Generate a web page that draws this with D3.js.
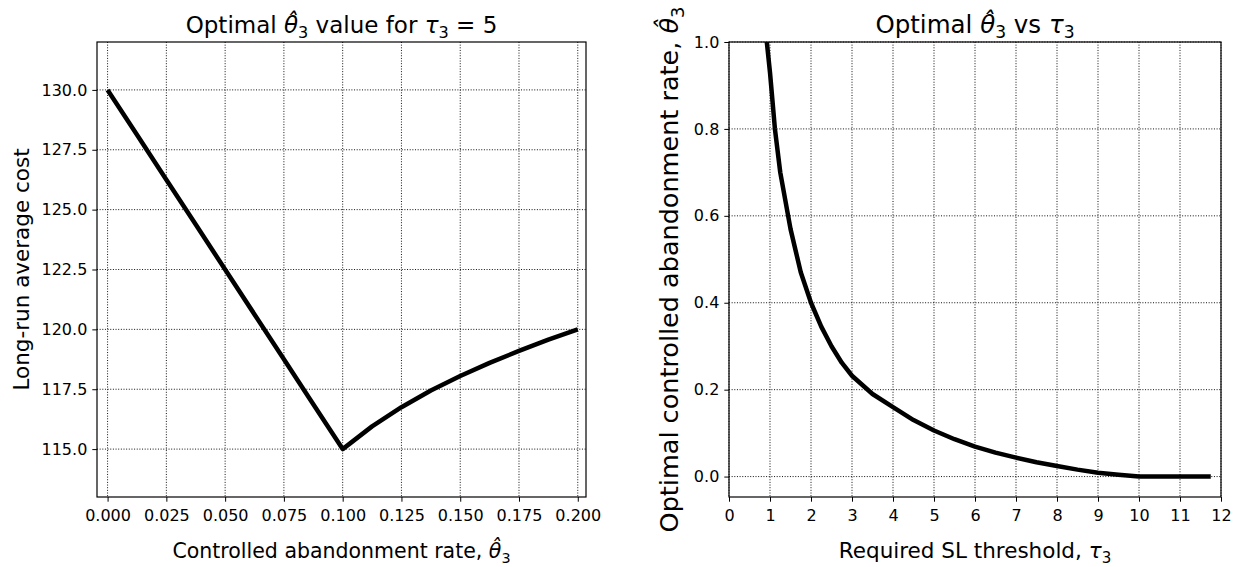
<!DOCTYPE html>
<html>
<head>
<meta charset="utf-8">
<script src="https://cdn.jsdelivr.net/npm/d3@7"></script>
<style>
  html, body { margin: 0; padding: 0; background: #fff; }
  svg { display: block; font-family: "DejaVu Sans", sans-serif; }
</style>
</head>
<body>
<svg id="chart" width="1244" height="567"></svg>
<script>
// ---------- data ----------
// Left panel: long-run average cost vs controlled abandonment rate (tau3 = 5)
const leftTheta = [0, 0.0125, 0.025, 0.0375, 0.05, 0.0625, 0.075, 0.0875, 0.1,
                   0.1125, 0.125, 0.1375, 0.15, 0.1625, 0.175, 0.1875, 0.2];
const leftCost  = [130.0, 128.125, 126.25, 124.375, 122.5, 120.625, 118.75, 116.875, 115.0,
                   115.95, 116.75, 117.45, 118.05, 118.6, 119.1, 119.57, 120.0];
const leftXTicks = [0, 0.025, 0.05, 0.075, 0.1, 0.125, 0.15, 0.175, 0.2];
const leftYTicks = [115.0, 117.5, 120.0, 122.5, 125.0, 127.5, 130.0];

// Right panel: optimal theta3 vs required SL threshold tau3
const rightTau   = [0.9, 1.0, 1.12, 1.25, 1.5, 1.75, 2.0, 2.25, 2.5, 2.75, 3.0, 3.5, 4.0, 4.5,
                    5.0, 5.5, 6.0, 6.5, 7.0, 7.5, 8.0, 8.5, 9.0, 9.5, 10.0, 10.5, 11.0, 11.75];
const rightTheta = [1.02, 0.93, 0.8, 0.70, 0.57, 0.47, 0.40, 0.345, 0.30, 0.262, 0.232, 0.19, 0.16, 0.13,
                    0.106, 0.086, 0.069, 0.055, 0.0435, 0.033, 0.0244, 0.016, 0.009, 0.004, 0.0, 0.0, 0.0, 0.0];
const rightXTicks = [0, 1, 2, 3, 4, 5, 6, 7, 8, 9, 10, 11, 12];
const rightYTicks = [0.0, 0.2, 0.4, 0.6, 0.8, 1.0];

// ---------- layout ----------
const svg = d3.select("#chart");
svg.append("rect").attr("width", 1244).attr("height", 567).attr("fill", "#fff");

const TOP = 42, BOTTOM = 497;
const panels = [
  { left: 97, right: 586, xDomain: [-0.0045, 0.2035], yDomain: [113, 132],
    xTicks: leftXTicks, yTicks: leftYTicks, xFmt: d3.format(".3f"), yFmt: d3.format(".1f"),
    xs: leftTheta, ys: leftCost,
    title: [{t: "Optimal "}, {t: "θ\u0302", i: true}, {t: "3", sub: true}, {t: " value for "}, {t: "τ", i: true}, {t: "3", sub: true}, {t: " = 5"}],
    titleSize: 23,
    xLabel: [{t: "Controlled abandonment rate, "}, {t: "θ\u0302", i: true}, {t: "3", sub: true}],
    xLabelSize: 20.5,
    yLabel: [{t: "Long-run average cost"}], yLabelX: 29, yLabelSize: 21.5 },
  { left: 729, right: 1221, xDomain: [0, 12], yDomain: [-0.047, 1.0],
    xTicks: rightXTicks, yTicks: rightYTicks, xFmt: d3.format("d"), yFmt: d3.format(".1f"),
    xs: rightTau, ys: rightTheta,
    title: [{t: "Optimal "}, {t: "θ\u0302", i: true}, {t: "3", sub: true}, {t: " vs "}, {t: "τ", i: true}, {t: "3", sub: true}],
    titleSize: 24.5,
    xLabel: [{t: "Required SL threshold, "}, {t: "τ", i: true}, {t: "3", sub: true}],
    xLabelSize: 21.5,
    yLabel: [{t: "Optimal controlled abandonment rate, "}, {t: "θ\u0302", i: true}, {t: "3", sub: true}],
    yLabelX: 678, yLabelSize: 25.5 }
];

function richText(sel, parts, size) {
  let prevSub = false;
  parts.forEach(p => {
    const ts = sel.append("tspan").text(p.t);
    if (p.i) ts.attr("font-style", "italic");
    if (p.sub) ts.attr("font-size", size * 0.7);
    if (p.sub && !prevSub) ts.attr("dy", size * 0.22);
    else if (!p.sub && prevSub) ts.attr("dy", -size * 0.22);
    prevSub = !!p.sub;
  });
}

panels.forEach((P, idx) => {
  const x = d3.scaleLinear().domain(P.xDomain).range([P.left, P.right]);
  const y = d3.scaleLinear().domain(P.yDomain).range([BOTTOM, TOP]);
  const g = svg.append("g");

  // grid
  g.append("g").selectAll("line").data(P.xTicks).join("line")
    .attr("x1", d => x(d)).attr("x2", d => x(d)).attr("y1", TOP).attr("y2", BOTTOM)
    .attr("stroke", "#111").attr("stroke-width", 1).attr("stroke-dasharray", "1,1.65");
  g.append("g").selectAll("line").data(P.yTicks).join("line")
    .attr("y1", d => y(d)).attr("y2", d => y(d)).attr("x1", P.left).attr("x2", P.right)
    .attr("stroke", "#111").attr("stroke-width", 1).attr("stroke-dasharray", "1,1.65");

  // clip
  const clipId = "clip" + idx;
  svg.append("clipPath").attr("id", clipId).append("rect")
    .attr("x", P.left).attr("y", TOP).attr("width", P.right - P.left).attr("height", BOTTOM - TOP);

  // line
  const pts = P.xs.map((v, i) => [v, P.ys[i]]);
  g.append("path").datum(pts)
    .attr("clip-path", `url(#${clipId})`)
    .attr("fill", "none").attr("stroke", "#000").attr("stroke-width", 4.5)
    .attr("stroke-linejoin", "round")
    .attr("d", d3.line().x(d => x(d[0])).y(d => y(d[1])));

  // axes
  const xAxis = d3.axisBottom(x).tickValues(P.xTicks).tickFormat(P.xFmt).tickSizeInner(4.7).tickSizeOuter(0).tickPadding(8);
  const yAxis = d3.axisLeft(y).tickValues(P.yTicks).tickFormat(P.yFmt).tickSizeInner(4.7).tickSizeOuter(0).tickPadding(5);
  const gx = g.append("g").attr("transform", `translate(0,${BOTTOM})`).call(xAxis);
  const gy = g.append("g").attr("transform", `translate(${P.left},0)`).call(yAxis);
  [gx, gy].forEach(a => {
    a.select(".domain").remove();
    a.selectAll("line").attr("stroke", "#000").attr("stroke-width", 1);
    a.selectAll("text").attr("font-size", 16).attr("fill", "#000").attr("font-family", "DejaVu Sans");
  });

  // frame
  g.append("rect").attr("x", P.left).attr("y", TOP).attr("width", P.right - P.left).attr("height", BOTTOM - TOP)
    .attr("fill", "none").attr("stroke", "#000").attr("stroke-width", 1.2);

  // title
  const cx = (P.left + P.right) / 2;
  const tt = svg.append("text").attr("x", cx).attr("y", 33).attr("text-anchor", "middle")
    .attr("font-size", P.titleSize).attr("fill", "#000");
  richText(tt, P.title, P.titleSize);

  // x label
  const xl = svg.append("text").attr("x", cx).attr("y", 558).attr("text-anchor", "middle")
    .attr("font-size", P.xLabelSize).attr("fill", "#000");
  richText(xl, P.xLabel, P.xLabelSize);

  // y label
  const yl = svg.append("text").attr("transform", `translate(${P.yLabelX},${(TOP + BOTTOM) / 2}) rotate(-90)`)
    .attr("text-anchor", "middle").attr("font-size", P.yLabelSize).attr("fill", "#000");
  richText(yl, P.yLabel, P.yLabelSize);
});
</script>
</body>
</html>
